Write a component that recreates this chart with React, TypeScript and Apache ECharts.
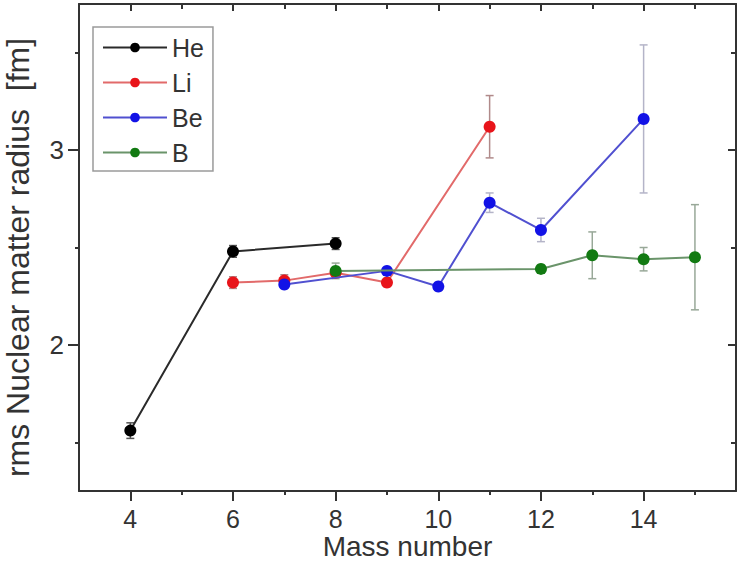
import React, { useEffect, useRef } from "react";
import * as echarts from "echarts";

// ---- data ----
const massHe = [4, 6, 8];
const radiusHe = [1.56, 2.48, 2.52];
const errHe = [0.04, 0.03, 0.03];

const massLi = [6, 7, 8, 9, 11];
const radiusLi = [2.32, 2.33, 2.37, 2.32, 3.12];
const errLi = [0.03, 0.03, 0.02, 0.02, 0.16];

const massBe = [7, 9, 10, 11, 12, 14];
const radiusBe = [2.31, 2.38, 2.3, 2.73, 2.59, 3.16];
const errBe = [0.02, 0.01, 0.02, 0.05, 0.06, 0.38];

const massB = [8, 12, 13, 14, 15];
const radiusB = [2.38, 2.39, 2.46, 2.44, 2.45];
const errB = [0.04, 0.02, 0.12, 0.06, 0.27];

const xTickLabels = [4, 6, 8, 10, 12, 14];
const yTickLabels = [2, 3];

const FONT = "Liberation Sans, Arial, Helvetica, sans-serif";

type Spec = {
  name: string;
  mass: number[];
  radius: number[];
  err: number[];
  marker: string;
  line: string;
  bar: string;
};

const specs: Spec[] = [
  { name: "He", mass: massHe, radius: radiusHe, err: errHe, marker: "#000000", line: "#2a2a2a", bar: "#555555" },
  { name: "Li", mass: massLi, radius: radiusLi, err: errLi, marker: "#e8141a", line: "#e26a6a", bar: "#b08a8a" },
  { name: "Be", mass: massBe, radius: radiusBe, err: errBe, marker: "#1212e6", line: "#5050d0", bar: "#b4b4c8" },
  { name: "B", mass: massB, radius: radiusB, err: errB, marker: "#127a12", line: "#6a946a", bar: "#98a898" },
];

export default function App() {
  const ref = useRef<HTMLDivElement>(null);
  useEffect(() => {
    if (!ref.current) return;
    const chart = echarts.init(ref.current, null, { renderer: "svg" });

    const axisLineStyle = { color: "#333333", width: 2 };
    const series: any[] = [];
    specs.forEach((s) => {
      series.push({
        type: "custom",
        name: s.name + "-err",
        silent: true,
        z: 1,
        data: s.mass.map((m, i) => [m, s.radius[i] - s.err[i], s.radius[i] + s.err[i]]),
        encode: { x: 0, y: [1, 2] },
        renderItem: (params: any, api: any) => {
          const x = api.value(0);
          const lo = api.coord([x, api.value(1)]);
          const hi = api.coord([x, api.value(2)]);
          const cap = 4;
          const st = { stroke: s.bar, lineWidth: 1.5 };
          return {
            type: "group",
            children: [
              { type: "line", shape: { x1: lo[0], y1: lo[1], x2: hi[0], y2: hi[1] }, style: st },
              { type: "line", shape: { x1: lo[0] - cap, y1: lo[1], x2: lo[0] + cap, y2: lo[1] }, style: st },
              { type: "line", shape: { x1: hi[0] - cap, y1: hi[1], x2: hi[0] + cap, y2: hi[1] }, style: st },
            ],
          };
        },
      });
    });
    specs.forEach((s, si) => {
      series.push({
        type: "line",
        name: s.name,
        z: 2 + si,
        data: s.mass.map((m, i) => [m, s.radius[i]]),
        symbol: "circle",
        symbolSize: 12,
        itemStyle: { color: s.marker },
        lineStyle: { color: s.line, width: 2 },
        emphasis: { disabled: true },
      });
    });

    const xCommon = {
      type: "value",
      min: 3,
      max: 15.8,
      splitNumber: 6,
      splitLine: { show: false },
      axisLine: { show: true, onZero: false, lineStyle: axisLineStyle },
    };
    const yCommon = {
      type: "value",
      min: 1.25,
      max: 3.75,
      splitNumber: 2,
      splitLine: { show: false },
      axisLine: { show: true, onZero: false, lineStyle: axisLineStyle },
    };

    chart.setOption({
      animation: false,
      backgroundColor: "#ffffff",
      grid: { left: 79, right: 7, top: 4, bottom: 71, containLabel: false, outerBoundsMode: "none" },
      legend: {
        show: true,
        data: specs.map((s) => s.name),
        orient: "vertical",
        left: 93,
        top: 27,
        padding: [8, 9, 6, 9],
        itemGap: 10,
        itemWidth: 64,
        itemHeight: 12,
        borderColor: "#9a9a9a",
        borderWidth: 1.5,
        textStyle: { fontFamily: FONT, fontSize: 25, color: "#333333", lineHeight: 25 },
      },
      xAxis: [
        {
          ...xCommon,
          position: "bottom",
          axisTick: { show: true, inside: false, length: 10, customValues: xTickLabels, lineStyle: axisLineStyle },
          minorTick: { show: true, splitNumber: 2, length: 4, lineStyle: axisLineStyle },
          axisLabel: {
            show: true,
            customValues: xTickLabels,
            formatter: (v: number) => (xTickLabels.indexOf(v) >= 0 ? String(v) : ""),
            fontFamily: FONT,
            fontSize: 25,
            lineHeight: 22,
            color: "#333333",
            margin: 17,
          },
          name: "Mass number",
          nameLocation: "middle",
          nameGap: 42,
          nameMoveOverlap: false,
          nameTextStyle: { fontFamily: FONT, fontSize: 28, lineHeight: 26, color: "#333333" },
        },
        {
          ...xCommon,
          position: "top",
          axisTick: { show: true, inside: true, length: 7, customValues: xTickLabels, lineStyle: axisLineStyle },
          minorTick: { show: true, splitNumber: 2, length: 5, lineStyle: axisLineStyle },
          axisLabel: { show: false },
        },
      ],
      yAxis: [
        {
          ...yCommon,
          position: "left",
          axisTick: { show: true, inside: false, length: 11, customValues: yTickLabels, lineStyle: axisLineStyle },
          minorTick: { show: true, splitNumber: 2, length: 4, lineStyle: axisLineStyle },
          axisLabel: {
            show: true,
            customValues: yTickLabels,
            formatter: (v: number) => (yTickLabels.indexOf(v) >= 0 ? String(v) : ""),
            fontFamily: FONT,
            fontSize: 26,
            color: "#333333",
            margin: 15,
          },
          name: "rms Nuclear matter radius  [fm]",
          nameLocation: "middle",
          nameGap: 45,
          nameMoveOverlap: false,
          nameTextStyle: { fontFamily: FONT, fontSize: 32, color: "#333333", padding: [0, 20, 0, 0] },
        },
        {
          ...yCommon,
          position: "right",
          axisTick: { show: true, inside: true, length: 8, customValues: yTickLabels, lineStyle: axisLineStyle },
          minorTick: { show: true, splitNumber: 2, length: 5, lineStyle: axisLineStyle },
          axisLabel: { show: false },
        },
      ],
      series,
    });
    return () => chart.dispose();
  }, []);
  return <div ref={ref} style={{ position: "fixed", left: 0, top: 0, width: 743, height: 562 }} />;
}
